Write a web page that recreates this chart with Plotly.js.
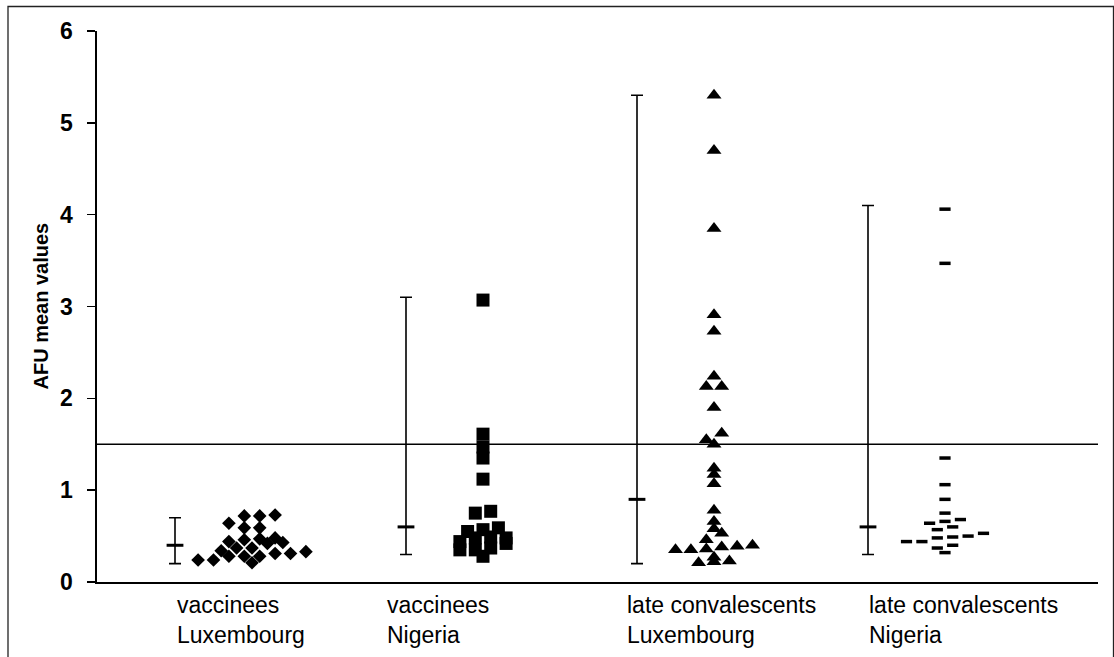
<!DOCTYPE html>
<html>
<head>
<meta charset="utf-8">
<script src="https://cdn.plot.ly/plotly-3.0.1.min.js"></script>
<style>html,body{margin:0;padding:0;background:#fff;}#chart{width:1114px;height:657px;}</style>
</head>
<body>
<div id="chart"></div>
<script>
// ---- data ----
const categories = ["vaccinees<br>Luxembourg", "vaccinees<br>Nigeria", "late convalescents<br>Luxembourg", "late convalescents<br>Nigeria"];
const yTicks = [0, 1, 2, 3, 4, 5, 6];
const cutoff = 1.5;

// summary bars: low / middle / high per group
const errLow  = [0.2, 0.3, 0.2, 0.3];
const errMid  = [0.4, 0.6, 0.9, 0.6];
const errHigh = [0.7, 3.1, 5.3, 4.1];

// individual values (jitter column index and value)
const vlColumn = [-7, -5, -3, -3, -4, -3, -2, -1, -1, -1, -1, 0, 0, 1, 1, 1, 1, 2, 3, 3, 3, 4, 5, 7];
const vlValues = [0.24, 0.24, 0.64, 0.44, 0.34, 0.28, 0.37, 0.72, 0.59, 0.46, 0.28, 0.37, 0.21, 0.72, 0.59, 0.47, 0.28, 0.42, 0.73, 0.48, 0.31, 0.43, 0.31, 0.33];

const vnColumn = [0, 0, 0, 0, 0, -1, 1, -2, 0, 2, -3, -1, 1, 3, -3, -1, 1, 3, 0];
const vnValues = [3.07, 1.61, 1.47, 1.35, 1.12, 0.75, 0.77, 0.55, 0.57, 0.59, 0.44, 0.48, 0.49, 0.48, 0.35, 0.35, 0.37, 0.42, 0.28];

const clColumn = [0, 0, 0, 0, 0, 0, -1, 1, 0, 1, -1, 0, 0, 0, 0, 0, 0, 0, 1, -1, -5, -3, -1, 1, 3, 5, -2, 0, 0, 2];
const clValues = [5.3, 4.7, 3.85, 2.91, 2.73, 2.24, 2.13, 2.13, 1.90, 1.62, 1.55, 1.50, 1.24, 1.17, 1.07, 0.78, 0.66, 0.58, 0.53, 0.46, 0.35, 0.35, 0.36, 0.38, 0.39, 0.40, 0.21, 0.22, 0.27, 0.23];

const cnColumn = [0, 0, 0, 0, 0, 0, -2, 0, 2, -1, 1, 3, 5, -5, -3, -1, 1, -1, 1, 0];
const cnValues = [4.06, 3.47, 1.35, 1.06, 0.90, 0.75, 0.64, 0.66, 0.68, 0.57, 0.60, 0.50, 0.53, 0.44, 0.44, 0.48, 0.49, 0.37, 0.40, 0.32];

// ---- layout helpers ----
const colStep = 1 / 30;        // jitter step in category units
const barOffset = -1 / 3;      // summary bar sits left of the points
const xs = (g, cols) => cols.map(c => g + c * colStep);

const traces = [];
function pointTrace(g, cols, vals, marker) {
  traces.push({
    type: "scatter", mode: "markers", x: xs(g, cols), y: vals,
    marker: marker, hoverinfo: "y", showlegend: false, cliponaxis: false
  });
}
pointTrace(1, vlColumn, vlValues, {symbol: "diamond", size: 10.5, color: "#000"});
pointTrace(2, vnColumn, vnValues, {symbol: "square", size: 13, color: "#000"});
pointTrace(3, clColumn, clValues, {symbol: "triangle-up", size: 13, color: "#000"});
pointTrace(4, cnColumn, cnValues, {symbol: "line-ew", size: 8, color: "#000", line: {color: "#000", width: 3.5}});

// summary bars
traces.push({
  type: "scatter", mode: "markers",
  x: [1, 2, 3, 4].map(g => g + barOffset), y: errMid,
  marker: {symbol: "line-ew", size: 12, color: "#000", line: {color: "#000", width: 3}},
  error_y: {type: "data", symmetric: false,
    array: errHigh.map((h, i) => h - errMid[i]),
    arrayminus: errMid.map((m, i) => m - errLow[i]),
    color: "#000", thickness: 1.6, width: 6},
  showlegend: false, hoverinfo: "y", cliponaxis: false
});

const plotLeft = 97, plotRight = 1098, plotTop = 31, plotBottom = 582;
const pw = plotRight - plotLeft, ph = plotBottom - plotTop;
const labelX = [175, 385, 625, 867];
const catAnn = categories.map((c, i) => ({
  x: (labelX[i] - plotLeft) / pw, y: (plotBottom - 590) / ph,
  xref: "paper", yref: "paper", xanchor: "left", yanchor: "top", align: "left",
  showarrow: false, text: c,
  font: {family: "Liberation Sans, Arial, sans-serif", size: 23, color: "#000"}
}));
catAnn.push({
  x: (40 - plotLeft) / pw, y: 0.5, xref: "paper", yref: "paper",
  xanchor: "center", yanchor: "middle", textangle: -90, showarrow: false,
  text: "<b>AFU mean values</b>",
  font: {family: "Liberation Sans, Arial, sans-serif", size: 20, color: "#000"}
});

const layout = {
  width: 1114, height: 657,
  margin: {l: plotLeft, r: 1114 - plotRight, t: plotTop, b: 657 - plotBottom, pad: 0},
  paper_bgcolor: "#fff", plot_bgcolor: "#fff",
  showlegend: false,
  xaxis: {
    range: [1 - 155 / 231, 1 - 155 / 231 + pw / 231],
    showgrid: false, zeroline: false, showticklabels: false, ticks: "",
    showline: true, linecolor: "#000", linewidth: 1.6, fixedrange: true
  },
  yaxis: {
    range: [0, 6], tickvals: yTicks, ticktext: yTicks.map(String),
    showgrid: false, zeroline: false,
    showline: true, linecolor: "#000", linewidth: 1.6,
    ticks: "outside", ticklen: 8, tickwidth: 1.6, tickcolor: "#000",
    ticklabelstandoff: 10,
    tickfont: {family: "Liberation Sans, Arial, sans-serif", size: 23, color: "#000", weight: "bold"},
    fixedrange: true
  },
  shapes: [
    {type: "line", xref: "paper", yref: "y", x0: 0, x1: 1, y0: cutoff, y1: cutoff,
     line: {color: "#000", width: 1.6}},
    {type: "rect", xref: "paper", yref: "paper",
     x0: (8 - plotLeft) / pw, x1: (1113.5 - plotLeft) / pw,
     y0: (plotBottom - 700) / ph, y1: (plotBottom - 6.5) / ph,
     line: {color: "#222", width: 1.3}, fillcolor: "rgba(0,0,0,0)", layer: "below"}
  ],
  annotations: catAnn
};

Plotly.newPlot("chart", traces, layout, {displayModeBar: false, staticPlot: true});
</script>
</body>
</html>
